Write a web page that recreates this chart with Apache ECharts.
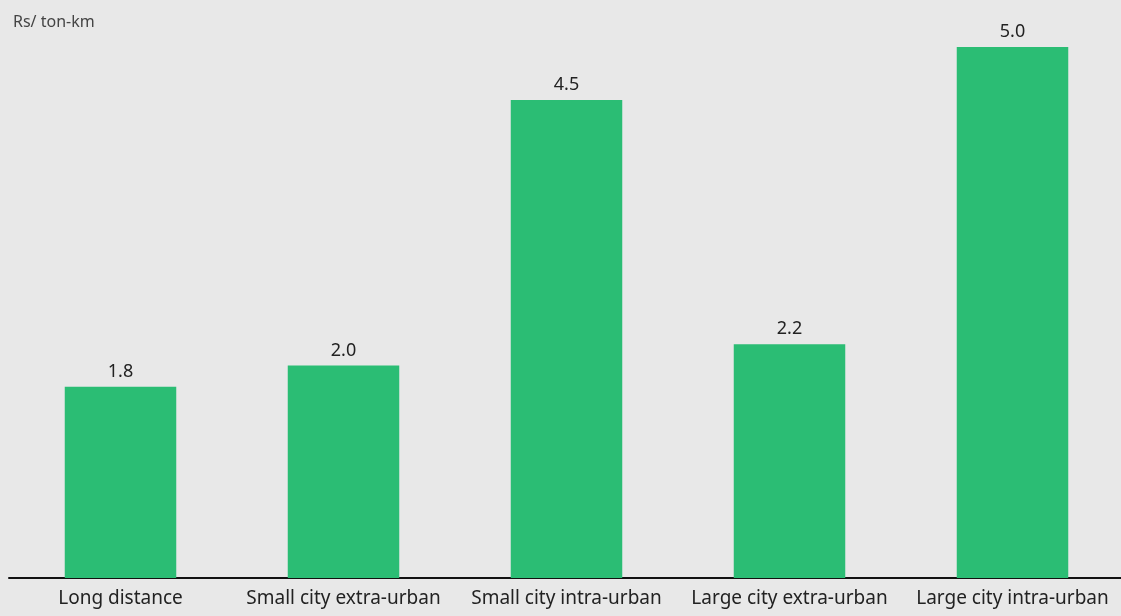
<!DOCTYPE html>
<html>
<head>
<meta charset="utf-8">
<script src="https://cdn.jsdelivr.net/npm/echarts@6/dist/echarts.min.js"></script>
<style>
  html, body { margin: 0; padding: 0; background: #e8e8e8; }
  #chart { width: 1121px; height: 616px; }
</style>
</head>
<body>
<div id="chart"></div>
<script>
var categories = ['Long distance', 'Small city extra-urban', 'Small city intra-urban', 'Large city extra-urban', 'Large city intra-urban'];
var costs = [1.8, 2.0, 4.5, 2.2, 5.0];
var unitLabel = 'Rs/ ton-km';

var barColor = '#2bbd74';
var font = '"Noto Sans", sans-serif';

var myChart = echarts.init(document.getElementById('chart'));
var option = {
  backgroundColor: '#e8e8e8',
  animation: false,
  title: {
    text: unitLabel,
    left: 8,
    top: 9,
    textStyle: { color: '#444', fontSize: 16, fontWeight: 'normal', fontFamily: font }
  },
  grid: { left: 9, width: 1115, top: 47, bottom: 38, containLabel: false, outerBoundsMode: 'none' },
  xAxis: {
    type: 'category',
    data: categories,
    axisLine: { lineStyle: { color: '#111', width: 2 } },
    axisTick: { show: false },
    axisLabel: { color: '#222', fontSize: 19, fontFamily: font, margin: 11, interval: 0 }
  },
  yAxis: {
    type: 'value',
    min: 0,
    max: 5,
    show: false
  },
  series: [{
    type: 'bar',
    data: costs,
    barWidth: '50%',
    itemStyle: { color: barColor },
    label: {
      show: true,
      position: 'top',
      distance: 6,
      color: '#222',
      fontSize: 18,
      fontFamily: font,
      formatter: function (p) { return p.value.toFixed(1); }
    }
  }]
};
myChart.setOption(option);
</script>
</body>
</html>
